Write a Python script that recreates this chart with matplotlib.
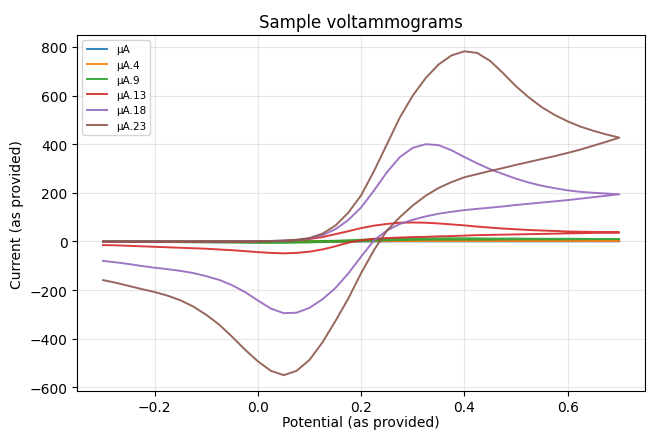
import numpy as np
import matplotlib.pyplot as plt

# potential grid: forward scan -0.3 -> 0.7, then back to -0.3
E_fwd = np.round(np.arange(-0.3, 0.7001, 0.025), 3)        # 41 points
E_rev = E_fwd[::-1][1:]                                       # 40 points
E = np.concatenate([E_fwd, E_rev])

# coarse grid for the small currents
Ec_fwd = np.round(np.arange(-0.3, 0.7001, 0.05), 3)          # 21 points
Ec_rev = Ec_fwd[::-1][1:]                                     # 20 points
Ec = np.concatenate([Ec_fwd, Ec_rev])

# µA.23 (brown)
ua23_fwd = [0, 0, 0, 0, 0, 0, 0, 0, 0, 0, 0, 0, 1, 2, 4, 7, 14, 32, 65, 118,
            190, 290, 400, 510, 600, 672, 728, 765, 782, 775, 742, 692, 638, 592,
            552, 520, 494, 472, 455, 440, 427]
ua23_rev = [410, 394, 378, 364, 351, 339, 327, 315, 302, 290, 277, 264, 244,
            220, 188, 148, 100, 45, -35, -130, -235, -328, -415, -487, -532, -550,
            -532, -493, -445, -392, -342, -302, -268, -242, -223, -208, -196, -183,
            -170, -159]

# µA.18 (purple)
ua18_fwd = [0, 0, 0, 0, 0, 0, 0, 0, 0, 0, 0, 0, 1, 2, 3, 6, 12, 26, 50, 88,
            140, 210, 285, 347, 385, 400, 396, 375, 347, 321, 297, 277, 258, 242,
            229, 219, 210, 204, 200, 197, 194]
ua18_rev = [188, 182, 176, 170, 165, 160, 155, 150, 144, 139, 134, 129, 122,
            114, 103, 89, 72, 45, 5, -62, -132, -192, -238, -273, -293, -295,
            -276, -243, -208, -180, -158, -143, -130, -121, -114, -108, -101, -93,
            -86, -80]

# µA.13 (red)
ua13_fwd = [-2, -2, -2, -2, -2, -2, -2, -2, -2, -1, -1, -1, 0, 1, 2, 5, 10, 18,
            30, 42, 55, 65, 72, 77, 78, 77, 74, 70, 66, 61, 57, 53, 50, 47, 45, 43,
            41, 40, 39, 38, 37]
ua13_rev = [36, 35, 34, 33, 32, 31, 30, 29, 28, 27, 26, 24, 22, 21, 19, 18, 16,
            14, 11, 5, -5, -20, -33, -42, -47, -49, -47, -44, -40, -36, -33, -30,
            -28, -26, -24, -22, -20, -18, -16, -15]

# µA.9 (green), µA.4 (orange), µA (blue) on the coarse grid
ua9_fwd = [0, 0, 0, 0, 0, 0, 0, 0, 1, 3, 7, 10, 12, 13, 13, 12, 12, 11, 11, 10, 10]
ua9_rev = [10, 9, 9, 9, 8, 8, 8, 7, 5, 2, -1, -4, -6, -6, -5, -4, -3, -2, -2, -2]

ua4_fwd = [0, 0, 0, 0, 0, 0, 0, 0, 0, 1, 2, 3, 4, 4, 4, 4, 3, 3, 3, 3, 3]
ua4_rev = [3, 3, 3, 3, 3, 2, 2, 2, 1, 1, 0, -1, -2, -2, -2, -1, -1, -1, -1, -1]

ua_fwd = [0, 0, 0, 0, 0, 0, 0, 0, 0, 0, 1, 1, 1, 1, 1, 1, 1, 1, 1, 1, 1]
ua_rev = [1, 1, 1, 1, 1, 1, 1, 1, 1, 0, 0, 0, -1, -1, -1, 0, 0, 0, 0, 0]

labels = ["µA", "µA.4", "µA.9", "µA.13", "µA.18", "µA.23"]
series = [
    (Ec, ua_fwd + ua_rev),
    (Ec, ua4_fwd + ua4_rev),
    (Ec, ua9_fwd + ua9_rev),
    (E, ua13_fwd + ua13_rev),
    (E, ua18_fwd + ua18_rev),
    (E, ua23_fwd + ua23_rev),
]

fig, ax = plt.subplots(figsize=(6.49, 4.35), dpi=100)
fig.subplots_adjust(left=0.119, right=0.994, top=0.917, bottom=0.098)

for (x, y), lab in zip(series, labels):
    ax.plot(x, y, lw=1.4, alpha=0.9, label=lab)

ax.set_title("Sample voltammograms")
ax.set_xlabel("Potential (as provided)", labelpad=1)
ax.set_ylabel("Current (as provided)")
ax.tick_params(axis="x", pad=2.5)
ax.grid(alpha=0.3)
ax.legend(loc="upper left", fontsize=7.5)

fig.savefig("out.png")
